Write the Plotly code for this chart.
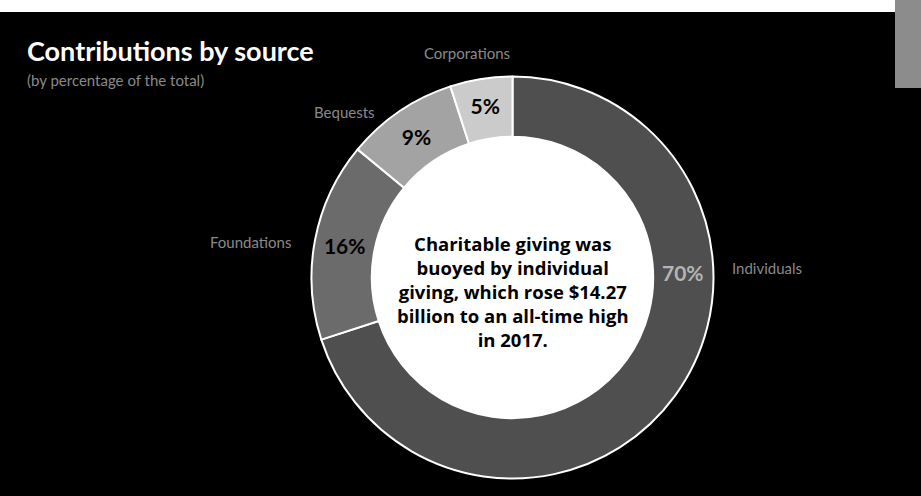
import plotly.graph_objects as go

# ---- data ----
categories = ["Individuals", "Foundations", "Bequests", "Corporations"]
shares = [70, 16, 9, 5]
slice_colors = ["#4f4f4f", "#6b6b6b", "#a3a3a3", "#cbcbcb"]
title_text = "Contributions by source"
subtitle_text = "(by percentage of the total)"
center_text = ("Charitable giving was<br>buoyed by individual<br>giving, which rose $14.27"
               "<br>billion to an all-time high<br>in 2017.")

W, H = 921, 496
FONT = "Lato"

def px(x):
    return x / W

def py(y):
    return 1 - y / H

# donut geometry (pixels)
CX, CY, R = 512.5, 277.5, 201
HOLE = 0.70

texttemplates = ["" if c == "Individuals" else "%{percent:.0%}" for c in categories]

fig = go.Figure()
fig.add_trace(go.Pie(
    labels=categories,
    values=shares,
    sort=False,
    direction="clockwise",
    rotation=0,
    hole=HOLE,
    marker=dict(colors=slice_colors, line=dict(color="white", width=2)),
    texttemplate=texttemplates,
    textposition="inside",
    insidetextorientation="horizontal",
    textfont=dict(family=FONT, size=21, color="#000000", weight="bold"),
    hoverinfo="label+percent",
    showlegend=False,
    domain=dict(x=[px(CX - R), px(CX + R)], y=[py(CY + R), py(CY - R)]),
))

shapes = [
    # white hole
    dict(type="circle", xref="paper", yref="paper", layer="below",
         x0=px(CX - R * HOLE), x1=px(CX + R * HOLE),
         y0=py(CY + R * HOLE), y1=py(CY - R * HOLE),
         fillcolor="white", line=dict(width=0)),
    # white strip along the top edge of the scan
    dict(type="rect", xref="paper", yref="paper", layer="below",
         x0=0, x1=1, y0=py(12), y1=1, fillcolor="white", line=dict(width=0)),
    # grey block in the top-right corner
    dict(type="rect", xref="paper", yref="paper", layer="below",
         x0=px(895), x1=1, y0=py(88), y1=1, fillcolor="#8c8c8c", line=dict(width=0)),
]

annotations = [
    dict(text=title_text, x=px(25), y=py(50), xref="paper", yref="paper",
         xanchor="left", yanchor="middle", showarrow=False,
         font=dict(family=FONT, size=27, color="white", weight="bold")),
    dict(text=subtitle_text, x=px(25), y=py(80), xref="paper", yref="paper",
         xanchor="left", yanchor="middle", showarrow=False,
         font=dict(family=FONT, size=15, color="#8a8a8a")),
    dict(text=center_text, x=px(513), y=py(291), xref="paper", yref="paper",
         xanchor="center", yanchor="middle", showarrow=False, align="center",
         font=dict(family="Open Sans", size=18.5, color="black", weight="bold")),
    # percentage for the largest slice (placed at 3 o'clock as in the original)
    dict(text=f"{shares[0]}%", x=px(683), y=py(272), xref="paper", yref="paper",
         xanchor="center", yanchor="middle", showarrow=False,
         font=dict(family=FONT, size=21, color="#b4b4b4", weight="bold")),
]

# outside category labels
label_pos = {
    "Individuals": (767, 268),
    "Foundations": (250, 242),
    "Bequests": (344, 112),
    "Corporations": (467, 53),
}
for c in categories:
    x, y = label_pos[c]
    annotations.append(dict(text=c, x=px(x), y=py(y), xref="paper", yref="paper",
                            xanchor="center", yanchor="middle", showarrow=False,
                            font=dict(family=FONT, size=15, color="#8a8a8a")))

fig.update_layout(
    width=W, height=H,
    margin=dict(l=0, r=0, t=0, b=0),
    paper_bgcolor="black",
    plot_bgcolor="black",
    shapes=shapes,
    annotations=annotations,
)

fig.write_html(
    "out.html",
    config={"displayModeBar": False},
    post_script="document.body.style.margin='0';document.body.style.overflow='hidden';",
)
